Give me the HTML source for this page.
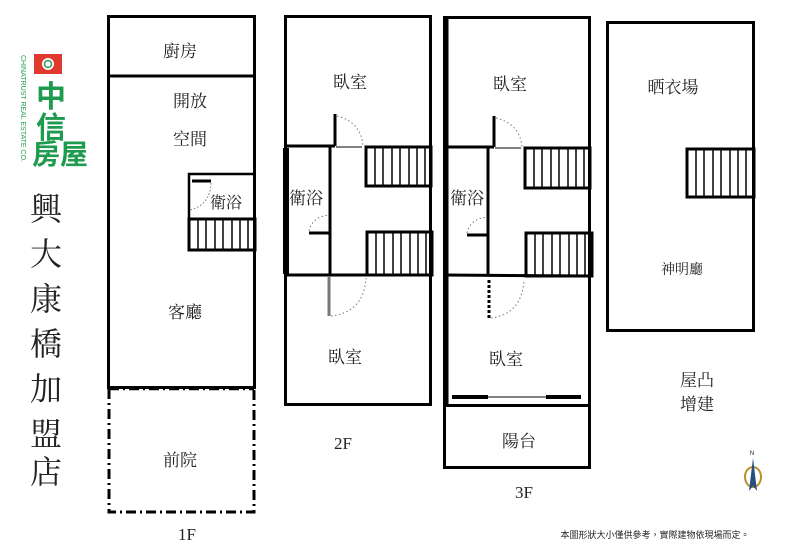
<!DOCTYPE html>
<html><head><meta charset="utf-8"><style>
html,body{margin:0;padding:0;background:#fff;}
svg{display:block;}
text{font-family:"Liberation Serif","Noto Serif CJK SC","Noto Sans CJK TC",serif;fill:#222;}
</style></head><body>
<svg width="800" height="553" viewBox="0 0 800 553" xmlns="http://www.w3.org/2000/svg">
<g fill="none" stroke="#000">
<!-- 1F -->
<rect x="108.5" y="16.5" width="146" height="371" stroke-width="3"/>
<line x1="108" y1="76" x2="255" y2="76" stroke-width="3"/>
<path d="M189 250 V174 H255" stroke-width="2.5"/>
<rect x="189" y="219" width="66" height="31" stroke-width="3"/>
<g stroke-width="1.5"><line x1="198" y1="219" x2="198" y2="250"/><line x1="206" y1="219" x2="206" y2="250"/><line x1="215" y1="219" x2="215" y2="250"/><line x1="223" y1="219" x2="223" y2="250"/><line x1="232" y1="219" x2="232" y2="250"/><line x1="240" y1="219" x2="240" y2="250"/><line x1="248" y1="219" x2="248" y2="250"/></g>
<line x1="192" y1="181" x2="211" y2="181" stroke-width="3"/>
<path d="M211 183 Q210 205 190 210" stroke-width="1" stroke-dasharray="1.5 2" stroke="#777"/>
<path d="M109 389 V512 H254 V389" stroke-width="3" stroke-dasharray="10 4 2 4"/>
<line x1="109" y1="389" x2="254" y2="389" stroke-width="2.5" stroke-dasharray="10 4 2 4"/>
<!-- 2F -->
<rect x="285.5" y="16.5" width="145" height="388" stroke-width="3"/>
<line x1="285" y1="146" x2="335" y2="146" stroke-width="3"/>
<line x1="335" y1="114" x2="335" y2="146" stroke-width="3"/>
<line x1="336" y1="147" x2="362" y2="147" stroke-width="1"/>
<path d="M337 116 Q361 122 363 146" stroke-width="1" stroke-dasharray="1.5 2.5" stroke="#777"/>
<line x1="330" y1="146" x2="330" y2="276" stroke-width="3"/>
<line x1="285" y1="275" x2="431" y2="275" stroke-width="3"/>
<line x1="286" y1="148" x2="286" y2="274" stroke-width="6"/>
<rect x="366" y="147" width="65" height="39" stroke-width="3"/>
<rect x="367" y="232" width="65" height="43" stroke-width="3"/>
<g stroke-width="1.5">
<line x1="375" y1="147" x2="375" y2="186"/><line x1="383" y1="147" x2="383" y2="186"/><line x1="392" y1="147" x2="392" y2="186"/><line x1="400" y1="147" x2="400" y2="186"/><line x1="409" y1="147" x2="409" y2="186"/><line x1="417" y1="147" x2="417" y2="186"/><line x1="425" y1="147" x2="425" y2="186"/>
<line x1="376" y1="232" x2="376" y2="275"/><line x1="384" y1="232" x2="384" y2="275"/><line x1="393" y1="232" x2="393" y2="275"/><line x1="401" y1="232" x2="401" y2="275"/><line x1="410" y1="232" x2="410" y2="275"/><line x1="418" y1="232" x2="418" y2="275"/><line x1="426" y1="232" x2="426" y2="275"/>
</g>
<line x1="309" y1="233" x2="330" y2="233" stroke-width="3"/>
<path d="M309 231 Q312 217 329 215" stroke-width="1" stroke-dasharray="1.5 2.5" stroke="#777"/>
<line x1="329" y1="276" x2="329" y2="316" stroke-width="3" stroke="#777"/>
<path d="M331 316 Q364 312 366 278" stroke-width="1" stroke-dasharray="1.5 2.5" stroke="#777"/>
<!-- 3F -->
<rect x="444.5" y="17.5" width="145" height="388" stroke-width="3"/>
<rect x="444.5" y="405.5" width="145" height="62" stroke-width="3"/>
<line x1="446" y1="19" x2="446" y2="404" stroke-width="5"/>
<line x1="444" y1="147" x2="494" y2="147" stroke-width="3"/>
<line x1="494" y1="116" x2="494" y2="147" stroke-width="3"/>
<line x1="495" y1="148" x2="521" y2="148" stroke-width="1"/>
<path d="M496 118 Q520 124 522 147" stroke-width="1" stroke-dasharray="1.5 2.5" stroke="#777"/>
<line x1="488" y1="147" x2="488" y2="276" stroke-width="3"/>
<line x1="444" y1="275" x2="590" y2="276" stroke-width="3"/>
<rect x="525" y="148" width="65" height="40" stroke-width="3"/>
<rect x="526" y="233" width="66" height="43" stroke-width="3"/>
<g stroke-width="1.5">
<line x1="534" y1="148" x2="534" y2="188"/><line x1="542" y1="148" x2="542" y2="188"/><line x1="551" y1="148" x2="551" y2="188"/><line x1="559" y1="148" x2="559" y2="188"/><line x1="568" y1="148" x2="568" y2="188"/><line x1="576" y1="148" x2="576" y2="188"/><line x1="584" y1="148" x2="584" y2="188"/>
<line x1="535" y1="233" x2="535" y2="276"/><line x1="543" y1="233" x2="543" y2="276"/><line x1="552" y1="233" x2="552" y2="276"/><line x1="560" y1="233" x2="560" y2="276"/><line x1="569" y1="233" x2="569" y2="276"/><line x1="577" y1="233" x2="577" y2="276"/><line x1="585" y1="233" x2="585" y2="276"/>
</g>
<line x1="467" y1="235" x2="488" y2="235" stroke-width="3"/>
<path d="M467 233 Q470 219 487 217" stroke-width="1" stroke-dasharray="1.5 2.5" stroke="#777"/>
<line x1="489" y1="280" x2="489" y2="318" stroke-width="3" stroke-dasharray="3 2"/>
<path d="M491 318 Q522 314 524 280" stroke-width="1" stroke-dasharray="1.5 2.5" stroke="#777"/>
<line x1="452" y1="397" x2="488" y2="397" stroke-width="4"/>
<line x1="488" y1="397" x2="546" y2="397" stroke-width="1"/>
<line x1="546" y1="397" x2="581" y2="397" stroke-width="4"/>
<!-- right -->
<rect x="607.5" y="22.5" width="146" height="308" stroke-width="3"/>
<rect x="687" y="149" width="67" height="48" stroke-width="3"/>
<g stroke-width="1.5"><line x1="696" y1="149" x2="696" y2="197"/><line x1="704" y1="149" x2="704" y2="197"/><line x1="713" y1="149" x2="713" y2="197"/><line x1="721" y1="149" x2="721" y2="197"/><line x1="730" y1="149" x2="730" y2="197"/><line x1="738" y1="149" x2="738" y2="197"/><line x1="746" y1="149" x2="746" y2="197"/></g>
</g>
<!-- logo -->
<rect x="34" y="54" width="28" height="20" fill="#e03a2e"/>
<circle cx="48" cy="64" r="6" fill="#fff"/><circle cx="48" cy="64" r="3.5" fill="none" stroke="#2a9a55" stroke-width="1.5"/>
<text x="36" y="107" font-size="30" style="fill:#1f9b4f;font-family:'Noto Sans CJK TC',sans-serif" font-weight="bold">中</text>
<text x="36" y="138" font-size="30" style="fill:#1f9b4f;font-family:'Noto Sans CJK TC',sans-serif" font-weight="bold">信</text>
<text x="32" y="164" font-size="28" style="fill:#1f9b4f;font-family:'Noto Sans CJK TC',sans-serif" font-weight="bold">房屋</text>
<text transform="translate(21,55) rotate(90)" font-size="7" style="fill:#1f9b4f;font-family:'Liberation Sans',sans-serif">CHINATRUST REAL ESTATE CO.</text>
<g font-size="32" text-anchor="middle">
<text x="46" y="220">興</text><text x="46" y="265">大</text><text x="46" y="310">康</text><text x="46" y="355">橋</text><text x="46" y="400">加</text><text x="46" y="445">盟</text><text x="46" y="483">店</text>
</g>
<g font-size="17" text-anchor="middle">
<text x="180" y="57">廚房</text>
<text x="190" y="107">開放</text>
<text x="190" y="145">空間</text>
<text x="226" y="208" font-size="16">衛浴</text>
<text x="185" y="318">客廳</text>
<text x="180" y="466">前院</text>
<text x="187" y="540" font-family="Liberation Serif">1F</text>
<text x="350" y="88">臥室</text>
<text x="306" y="204">衛浴</text>
<text x="345" y="363">臥室</text>
<text x="343" y="449" font-family="Liberation Serif">2F</text>
<text x="510" y="90">臥室</text>
<text x="467" y="204">衛浴</text>
<text x="506" y="365">臥室</text>
<text x="519" y="447">陽台</text>
<text x="524" y="498" font-family="Liberation Serif">3F</text>
<text x="673" y="93">晒衣場</text>
<text x="682" y="274" font-size="14">神明廳</text>
<text x="697" y="386">屋凸</text>
<text x="697" y="410">增建</text>
</g>
<text x="655" y="538" font-size="9" text-anchor="middle" style="font-family:'Noto Sans CJK TC',sans-serif">本圖形狀大小僅供參考，實際建物依現場而定。</text>
<!-- compass -->
<text x="752" y="455" font-size="6" text-anchor="middle" style="font-family:'Liberation Sans',sans-serif">N</text>
<ellipse cx="753" cy="477" rx="8" ry="10" fill="none" stroke="#b8912f" stroke-width="2"/>
<path d="M753 458 L757 491 L753 486 L749 491 Z" fill="#23507f"/>
</svg>
</body></html>
